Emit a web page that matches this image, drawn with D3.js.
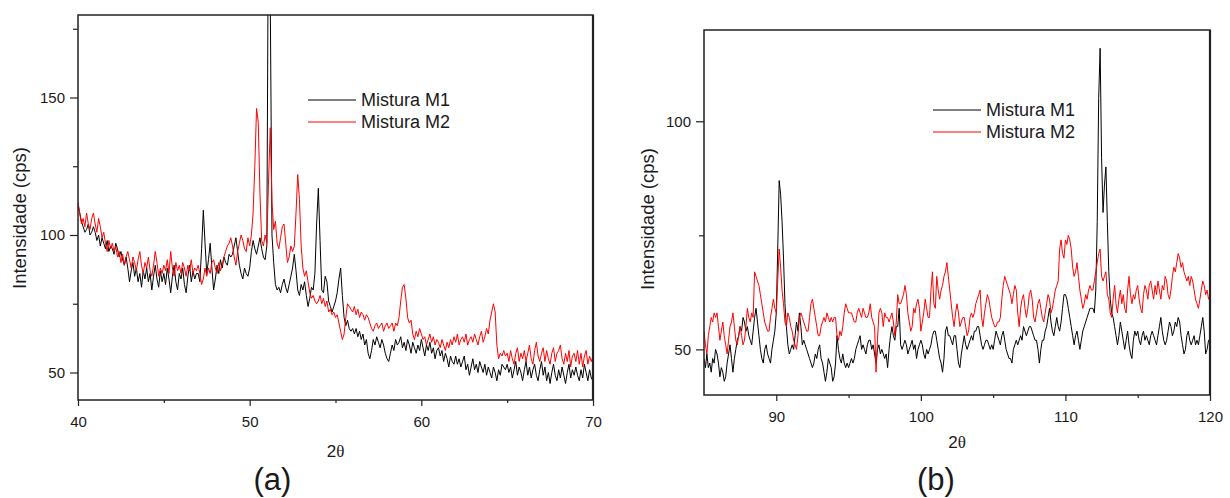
<!DOCTYPE html>
<html>
<head>
<meta charset="utf-8">
<script src="https://cdn.jsdelivr.net/npm/d3@7"></script>
<style>
  body { margin: 0; background: #fff; }
  svg { display: block; }
</style>
</head>
<body>
<svg id="chart" width="1230" height="498"></svg>
<script>
// ---------------- DATA ----------------
const seriesNames = ["Mistura M1", "Mistura M2"];
const panelLabels = ["(a)", "(b)"];
const xTitleParts = ["2", "\u03B8"];
const yTitle = "Intensidade (cps)";

// Panel (a): 2θ from 40 to 70, step 0.1
const aStart = 40, aStep = 0.1;
const aM1 = [
111,108,105,103,101,102,104,100,101,103, // 40
101,98,100,96,99,97,95,98,94,96,         // 41
95,93,97,95,92,94,91,89,92,88,           // 42
83,87,90,85,88,83,86,81,87,84,           // 43
88,83,86,80,85,89,84,81,87,83,           // 44
86,82,88,84,79,85,89,83,80,86,           // 45
84,88,82,79,85,89,83,87,84,86,           // 46
86,83,95,109,97,86,91,97,88,80,          // 47
84,89,86,91,88,92,90,89,93,92,           // 48
93,96,99,94,89,86,84,88,86,85,           // 49
88,94,98,95,93,96,99,95,92,91,           // 50
96,230,185,100,90,82,80,81,79,82,        // 51
84,81,79,82,85,88,93,87,80,78,           // 52
82,80,83,78,74,77,81,80,86,104,          // 53
117,98,80,79,85,83,76,74,72,74,          // 54
76,79,84,88,78,70,67,69,66,65,           // 55
66,64,66,63,65,62,64,60,62,57,           // 56
55,58,62,60,63,61,59,62,60,57,           // 57
55,54,57,60,58,62,60,61,63,59,           // 58
61,58,62,60,57,61,59,57,60,58,           // 59
62,59,56,60,58,61,57,59,55,58,           // 60
59,56,58,54,57,55,52,56,54,53,           // 61
56,53,55,52,54,56,51,53,49,52,           // 62
55,51,53,50,54,52,50,53,49,52,           // 63
50,48,52,50,47,51,49,53,52,51,           // 64
53,50,52,48,51,54,49,52,50,47,           // 65
51,54,49,52,48,51,53,49,47,51,           // 66
54,49,52,47,50,46,50,53,49,47,           // 67
51,48,52,49,46,50,53,48,51,49,           // 68
52,49,47,51,48,53,50,47,51,48,           // 69
47                                       // 70
];
const aM2 = [
112,108,104,106,103,108,104,102,106,108, // 40
104,101,106,103,99,101,97,94,98,95,      // 41
97,94,96,92,94,90,93,89,92,94,           // 42
91,88,92,90,87,91,94,89,86,90,           // 43
88,92,87,85,89,94,90,85,88,86,           // 44
89,87,91,86,94,88,85,90,87,89,           // 45
86,90,88,85,89,87,91,86,88,87,           // 46
89,86,82,84,88,85,88,86,90,91,           // 47
88,86,90,87,89,92,94,96,97,99,           // 48
96,92,89,94,97,100,98,95,94,99,          // 49
96,100,108,125,146,141,115,98,96,100,    // 50
97,120,139,112,102,105,97,95,99,103,     // 51
104,97,90,92,96,94,96,108,122,113,       // 52
96,88,85,87,83,79,77,78,76,75,           // 53
76,78,75,77,74,76,72,73,71,72,           // 54
70,71,68,65,62,64,70,75,74,73,           // 55
72,74,71,73,70,72,71,69,71,70,           // 56
68,66,65,67,68,66,67,68,65,67,           // 57
68,66,67,68,65,68,67,70,76,81,           // 58
82,77,70,68,69,64,62,65,63,66,           // 59
64,62,63,60,62,64,61,63,60,62,           // 60
61,59,62,60,58,61,59,62,60,63,           // 61
61,64,60,62,63,61,64,60,62,63,           // 62
61,64,62,60,63,65,61,63,66,64,           // 63
69,72,75,72,60,55,57,56,58,56,           // 64
57,54,58,55,53,57,59,54,57,55,           // 65
58,54,57,60,55,53,58,61,56,54,           // 66
57,59,54,58,55,53,57,59,54,57,           // 67
58,60,55,53,57,54,58,52,56,57,           // 68
54,58,53,57,52,56,58,53,56,54,           // 69
56                                       // 70
];

// Panel (b): 2θ from 85 to 120, step 0.1
const bStart = 85, bStep = 0.1;
const bM1 = [
48,46,49,46,47,45,48,47,50,49,  // 85
47,44,46,45,43,44,47,49,51,48,  // 86
45,48,50,52,53,55,54,57,56,54,  // 87
55,53,52,51,54,57,59,56,53,50,  // 88
48,47,50,51,49,48,47,50,52,54,  // 89
58,72,87,84,78,70,60,55,51,49,  // 90
50,51,50,53,56,54,58,55,51,52,  // 91
51,50,49,48,47,46,47,49,48,50,  // 92
51,48,47,45,43,45,48,47,46,43,  // 93
44,47,53,50,48,47,49,47,46,47,  // 94
46,47,48,47,48,50,51,52,53,50,  // 95
51,50,49,51,52,52,50,51,49,47,  // 96
50,51,49,50,49,48,49,46,50,53,  // 97
55,53,52,55,55,59,51,50,51,52,  // 98
51,49,50,51,52,50,51,48,50,51,  // 99
52,51,49,48,50,49,50,51,53,54,  // 100
54,52,50,48,47,45,48,54,55,53,  // 101
53,52,51,53,53,50,47,46,49,51,  // 102
53,51,50,51,52,53,52,54,54,55,  // 103
55,53,51,50,51,52,52,51,50,51,  // 104
50,52,54,53,52,51,53,54,52,50,  // 105
49,48,48,47,50,51,52,51,52,53,  // 106
52,55,54,53,54,55,55,54,53,52,  // 107
52,50,47,50,52,52,54,55,57,59,  // 108
56,54,53,55,57,55,54,56,59,62,  // 109
62,61,59,57,55,53,51,53,54,52,  // 110
50,52,54,55,56,57,58,59,59,59,  // 111
58,63,78,105,116,92,80,86,90,78,// 112
67,61,58,57,55,53,51,53,56,54,  // 113
52,50,52,54,51,49,48,52,54,53,  // 114
54,52,51,53,54,52,53,52,51,53,  // 115
54,53,52,51,53,55,57,54,52,51,  // 116
52,54,56,55,53,54,56,55,57,56,  // 117
53,51,49,50,53,54,52,51,52,53,  // 118
51,52,51,53,55,57,54,49,50,52,  // 119
52                              // 120
];
const bM2 = [
54,51,49,53,55,57,56,58,57,58,  // 85
55,52,54,56,53,51,49,52,55,56,  // 86
58,55,52,51,53,55,53,51,52,55,  // 87
59,57,56,58,57,67,66,65,64,62,  // 88
60,58,56,55,54,54,57,59,61,59,  // 89
58,65,72,68,63,60,56,55,58,57,  // 90
55,54,52,51,50,53,57,58,57,56,  // 91
55,54,54,57,60,61,59,57,55,53,  // 92
53,55,56,57,56,58,57,56,57,56,  // 93
57,57,53,52,54,53,55,58,60,59,  // 94
58,58,58,57,56,56,58,59,58,57,  // 95
59,58,57,57,58,60,57,56,55,45,  // 96
52,58,59,58,55,58,57,57,56,57,  // 97
58,56,53,56,62,60,60,61,62,64,  // 98
62,58,56,54,55,59,58,60,61,59,  // 99
54,56,58,61,59,57,57,63,67,60,  // 100
59,66,63,61,63,64,66,67,69,66,  // 101
63,60,57,55,58,60,58,55,56,57,  // 102
57,55,53,54,57,58,57,58,60,61,  // 103
62,63,57,55,58,60,62,61,59,57,  // 104
56,55,55,56,56,57,61,64,66,65,  // 105
64,63,62,60,62,64,63,58,55,59,  // 106
61,62,59,57,59,62,63,61,57,56,  // 107
58,60,61,59,57,56,58,60,62,61,  // 108
58,59,61,63,64,65,72,74,71,70,  // 109
74,73,75,74,72,68,66,67,69,66,  // 110
63,61,59,60,62,61,63,64,63,63,  // 111
65,67,69,71,72,66,65,66,67,62,  // 112
61,58,57,61,64,60,58,61,63,60,  // 113
62,59,58,63,66,62,60,62,61,63,  // 114
64,61,59,58,62,64,63,61,64,65,  // 115
63,61,64,62,65,63,61,64,63,66,  // 116
65,62,61,63,66,68,67,69,71,70,  // 117
68,69,67,66,65,66,64,66,65,63,  // 118
61,60,59,61,63,65,64,62,63,61,  // 119
61                              // 120
];

// Axis ticks
const aXDomain = [40, 70], aYDomain = [40, 180];
const aXTicks = [40, 50, 60, 70], aXMinor = [45, 55, 65];
const aYTicks = [50, 100, 150], aYMinor = [75, 125, 175];
const bXDomain = [85, 120], bYDomain = [40, 120];
const bXTicks = [90, 100, 110, 120], bXMinor = [95, 105, 115];
const bYTicks = [50, 100], bYMinor = [75];

// ---------------- DRAWING ----------------
const FONT = "'Liberation Sans', Arial, Helvetica, sans-serif";
const SERIF = "'Liberation Serif', 'Times New Roman', serif";
const svg = d3.select("#chart");
const colors = ["#000000", "#ff0000"];

function drawPanel(o) {
  const x = d3.scaleLinear().domain(o.xDomain).range([o.left, o.right]);
  const y = d3.scaleLinear().domain(o.yDomain).range([o.bottom, o.top]);
  const g = svg.append("g");

  const clipId = "clip-" + o.id;
  svg.append("defs").append("clipPath").attr("id", clipId)
    .append("rect").attr("x", o.left).attr("y", o.top)
    .attr("width", o.right - o.left).attr("height", o.bottom - o.top);

  const line = d3.line()
    .x((d, i) => x(o.start + i * o.step))
    .y(d => y(d));

  const dg = g.append("g").attr("clip-path", `url(#${clipId})`);
  o.series.forEach((s, k) => {
    dg.append("path").datum(s)
      .attr("fill", "none")
      .attr("stroke", colors[k])
      .attr("stroke-width", 1)
      .attr("stroke-linejoin", "round")
      .attr("d", line);
  });

  // Frame
  g.append("rect").attr("x", o.left).attr("y", o.top)
    .attr("width", o.right - o.left).attr("height", o.bottom - o.top)
    .attr("fill", "none").attr("stroke", "#222").attr("stroke-width", 1.5);
  g.append("line").attr("x1", o.right).attr("x2", o.right)
    .attr("y1", o.top).attr("y2", o.bottom)
    .attr("stroke", "#222").attr("stroke-width", 2.2);

  function styleAxis(sel) {
    sel.select(".domain").remove();
    sel.selectAll(".tick line").attr("stroke", "#222").attr("stroke-width", 1.2);
    sel.selectAll(".tick text").attr("fill", "#1a1a1a")
      .style("font-family", FONT).style("font-size", "15px");
  }

  // X axis major + minor
  g.append("g").attr("transform", `translate(0,${o.bottom})`)
    .call(d3.axisBottom(x).tickValues(o.xTicks).tickSize(6).tickSizeOuter(0)
      .tickPadding(10).tickFormat(d3.format("d")))
    .call(styleAxis);
  g.append("g").attr("transform", `translate(0,${o.bottom})`)
    .call(d3.axisBottom(x).tickValues(o.xMinor).tickSize(3).tickSizeOuter(0).tickFormat(""))
    .call(styleAxis);

  // Y axis major + minor
  g.append("g").attr("transform", `translate(${o.left},0)`)
    .call(d3.axisLeft(y).tickValues(o.yTicks).tickSize(8).tickSizeOuter(0)
      .tickPadding(5).tickFormat(d3.format("d")))
    .call(styleAxis);
  g.append("g").attr("transform", `translate(${o.left},0)`)
    .call(d3.axisLeft(y).tickValues(o.yMinor).tickSize(5).tickSizeOuter(0).tickFormat(""))
    .call(styleAxis);

  // Axis titles
  const xt = g.append("text")
    .attr("x", (o.left + o.right) / 2).attr("y", o.xTitleY)
    .attr("text-anchor", "middle")
    .style("font-family", FONT).style("font-size", "17px").attr("fill", "#1a1a1a");
  xt.append("tspan").text(xTitleParts[0]);
  xt.append("tspan").style("font-family", SERIF).style("font-size", "17px").text(xTitleParts[1]);

  g.append("text")
    .attr("transform", `translate(${o.yTitleX},${o.yTitleY}) rotate(-90)`)
    .attr("text-anchor", "middle")
    .style("font-family", FONT).style("font-size", "18.5px").attr("fill", "#1a1a1a")
    .text(yTitle);

  // Legend
  seriesNames.forEach((name, k) => {
    const ly = o.legendY + k * 22;
    g.append("line")
      .attr("x1", o.legendX).attr("x2", o.legendX + 48)
      .attr("y1", ly).attr("y2", ly)
      .attr("stroke", colors[k]).attr("stroke-width", 1.2);
    g.append("text")
      .attr("x", o.legendX + 53).attr("y", ly + 6)
      .style("font-family", FONT).style("font-size", "18px").attr("fill", "#1a1a1a")
      .text(name);
  });

  // Panel label
  g.append("text")
    .attr("x", o.panelX).attr("y", 490)
    .attr("text-anchor", "middle")
    .style("font-family", FONT).style("font-size", "31px").attr("fill", "#1a1a1a")
    .text(o.panelLabel);
}

drawPanel({
  id: "a", left: 78, right: 593, top: 15, bottom: 400,
  xDomain: aXDomain, yDomain: aYDomain,
  xTicks: aXTicks, xMinor: aXMinor, yTicks: aYTicks, yMinor: aYMinor,
  start: aStart, step: aStep, series: [aM1, aM2],
  xTitleY: 457, yTitleX: 26, yTitleY: 218, legendX: 308, legendY: 100,
  panelX: 272.5, panelLabel: panelLabels[0]
});

drawPanel({
  id: "b", left: 704, right: 1210, top: 30, bottom: 395,
  xDomain: bXDomain, yDomain: bYDomain,
  xTicks: bXTicks, xMinor: bXMinor, yTicks: bYTicks, yMinor: bYMinor,
  start: bStart, step: bStep, series: [bM1, bM2],
  xTitleY: 448, yTitleX: 654, yTitleY: 219, legendX: 933, legendY: 110,
  panelX: 936, panelLabel: panelLabels[1]
});
</script>
</body>
</html>
